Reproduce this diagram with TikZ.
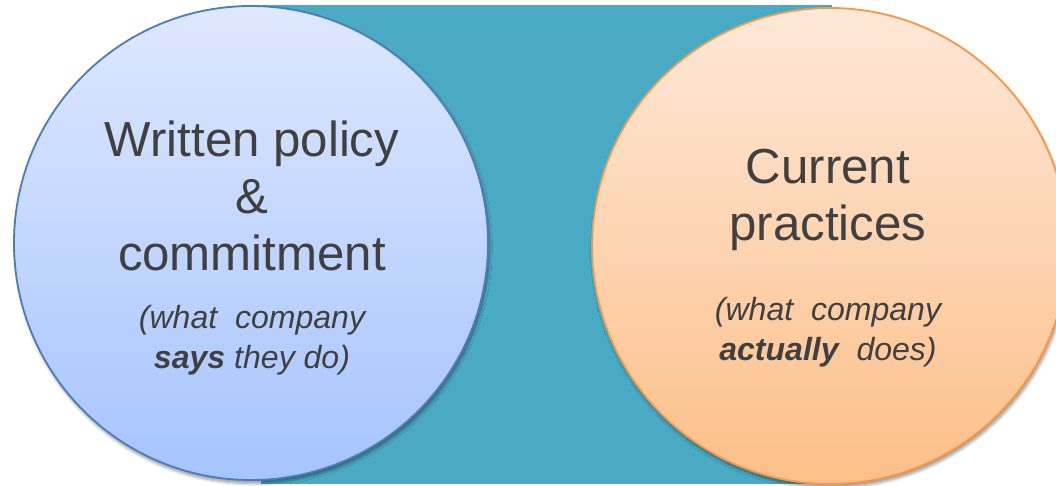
\documentclass[tikz,border=0pt]{standalone}
\usepackage{fontspec}
\setmainfont{Liberation Sans}
\usepackage{tikz}
\usepackage{xcolor}
\usetikzlibrary{shadows.blur}
\definecolor{teal}{HTML}{4AAAC4}
\definecolor{inkgray}{HTML}{404040}
\definecolor{blueedge}{HTML}{4A7EBB}
\definecolor{bluetop}{HTML}{DEE8FE}
\definecolor{bluebot}{HTML}{A6C4FE}
\definecolor{orangeedge}{HTML}{F79646}
\definecolor{orangetop}{HTML}{FEE8D8}
\definecolor{orangebot}{HTML}{FCBF88}
\tikzset{
  bigdisc/.style={circle,line width=1.3pt,inner sep=0pt,
                  blur shadow={shadow xshift=1pt,shadow yshift=-2.5pt,
                               shadow blur steps=6,shadow opacity=40}},
  saysdisc/.style={bigdisc,draw=blueedge,top color=bluetop,
                   bottom color=bluebot,minimum size=11.85cm},
  doesdisc/.style={bigdisc,draw=orangeedge,top color=orangetop,
                   bottom color=orangebot,minimum size=11.9cm},
  headtext/.style={align=center,text=inkgray,anchor=base,
                   font=\fontsize{35}{40.5}\selectfont},
  notetext/.style={align=center,text=inkgray,anchor=base,
                   font=\fontsize{22.8}{27.8}\selectfont\itshape}
}
\begin{document}
\begin{tikzpicture}[x=1cm,y=1cm]
    \path[use as bounding box] (0,0) rectangle (26.4,-12.15);
    \clip (0,0) rectangle (26.4,-12.15);

    \fill[teal] (6.525,-0.125) rectangle (20.8,-12.1);

    \node[saysdisc] (says) at (6.275,-6.075) {};
    \node[doesdisc] (does) at (20.75,-6.15) {};

    \node[headtext] (policy) at (6.3,-6.75)
      {Written policy\\ \&\\ commitment};
    \node[notetext] (saysnote) at (6.3,-9.2)
      {(what \ company\\ \textbf{says} they do)};

    \node[headtext] (practice) at (20.7,-6.0)
      {Current\\ practices};
    \node[notetext] (doesnote) at (20.7,-9.0)
      {(what \ company\\ \textbf{actually} \ does)};
  \end{tikzpicture}
\end{document}
